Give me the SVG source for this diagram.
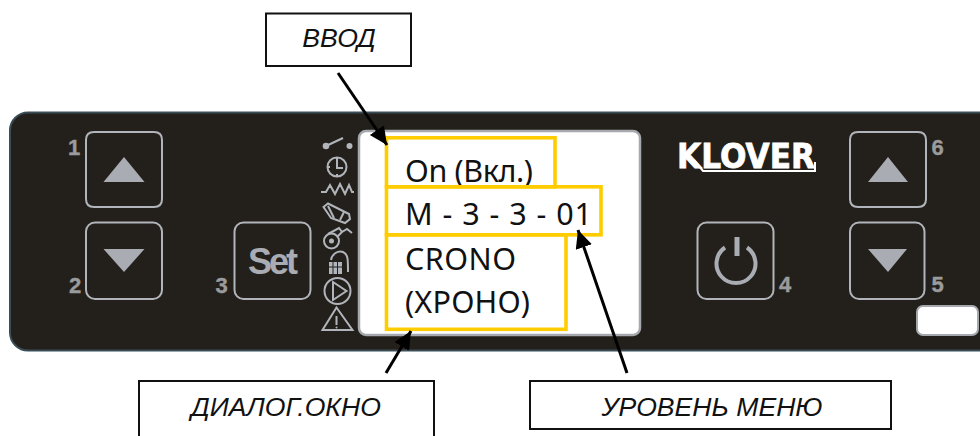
<svg xmlns="http://www.w3.org/2000/svg" width="980" height="436" viewBox="0 0 980 436">
<style>
.btn{fill:none;stroke:#b1b4ba;stroke-width:2}
.tri{fill:#a9acb3}
.num{font-family:"Liberation Sans",Arial,sans-serif;font-weight:700;font-size:22px;fill:#9a9b9c;stroke:#9a9b9c;stroke-width:.4}
.ic{fill:none;stroke:#b1b4ba;stroke-width:2}
.icf{fill:#b1b4ba}
.yb{fill:none;stroke:#ffcc00;stroke-width:3.6}
.lcd{font-family:"Noto Sans","Open Sans",sans-serif;font-size:30.5px;fill:#111}
.box{fill:#fff;stroke:#111;stroke-width:2}
.cap{font-family:"Liberation Sans",Arial,sans-serif;font-style:italic;font-size:26.6px;fill:#111;text-anchor:middle}
.arr{fill:none;stroke:#000;stroke-width:3;marker-end:url(#ah)}
</style>
<defs>
<marker id="ah" markerUnits="userSpaceOnUse" markerWidth="20" markerHeight="18" refX="18" refY="8.5" orient="auto">
<path d="M0 0L18 8.5L0 17Z" fill="#000"/>
</marker>
<path id="oct" d="M8 0H68Q76 0 76 8V67Q76 75 68 75H8Q0 75 0 67V8Q0 0 8 0Z"/>
</defs>
<rect width="980" height="436" fill="#fff"/>
<g id="panel">
<rect x="10" y="112.500" width="1010" height="238" rx="18" fill="#23201b" stroke="#3a4d56" stroke-width="2"/>
<rect x="359" y="131" width="281" height="204" rx="7" fill="#fff" stroke="#a5a8ad" stroke-width="2.500"/>
</g>
<g id="btn-1"><use href="#oct" x="86" y="132" class="btn"/><path class="tri" d="M124 157L144.500 182H103.500Z"/><text class="num" x="68" y="155">1</text></g>
<g id="btn-2"><rect x="86" y="222.500" width="76" height="76.500" rx="9" class="btn"/><path class="tri" d="M103.500 249H144.500L124 272Z"/><text class="num" x="69" y="293">2</text></g>
<g id="btn-3"><rect x="234.500" y="222.500" width="76" height="76.500" rx="9" class="btn"/><text x="248" y="274" font-family="Liberation Sans,Arial,sans-serif" font-weight="700" font-size="36" letter-spacing="-3" fill="#a9acb3">Set</text><text class="num" x="215.500" y="293">3</text></g>
<g id="btn-4"><rect x="697.500" y="222.500" width="76" height="76.500" rx="9" class="btn"/><path d="M725 247.500A19.500 19.500 0 1 0 747 247.500" fill="none" stroke="#a9acb3" stroke-width="4"/><rect x="734.500" y="237" width="5" height="19" fill="#a9acb3"/><text class="num" x="779" y="292">4</text></g>
<g id="btn-5"><rect x="850" y="222.500" width="74.500" height="76.500" rx="9" class="btn"/><path class="tri" d="M868 249H907L888 272Z"/><text class="num" x="931.500" y="292">5</text></g>
<g id="btn-6"><use href="#oct" x="850" y="132" class="btn"/><path class="tri" d="M888 157L908 182H868Z"/><text class="num" x="931.500" y="155">6</text></g>
<g id="logo"><text x="677" y="168" font-family="DejaVu Sans,sans-serif" font-weight="700" font-size="34" textLength="138" lengthAdjust="spacingAndGlyphs" fill="#fff" stroke="#fff" stroke-width="0.800">KLOVER</text><path d="M694 160L703 171H815V162" stroke="#fff" stroke-width="2" fill="none"/></g>
<g id="indicator"><rect x="917" y="306" width="61" height="29" rx="6" fill="#fff" stroke="#a5a8ad" stroke-width="2"/></g>
<g id="icons">
<circle class="icf" cx="326" cy="146" r="3.300"/><circle class="icf" cx="349.500" cy="146" r="3"/><path class="ic" d="M326 146L343 138"/>
<circle class="ic" cx="337" cy="167" r="9.500"/><path class="ic" d="M337 160V168H343M337 157.500V160M337 174V177M327.500 167H330"/>
<path class="ic" d="M321 192H326L330 185L335 194L340 184L345 194L349 185L352 192H354"/>
<path class="ic" d="M323.500 207L328 203.500L349 214L350 219L345 223L331 218Z"/><path class="ic" stroke-width="1.500" d="M328 206L334 218M344 212L340 220"/>
<circle class="ic" cx="331.500" cy="241" r="7.500"/><circle class="icf" cx="331.500" cy="241" r="2.500"/><path class="ic" d="M328 234L339 228L342 232L347 229L352 233M337 237L343 231"/>
<path class="ic" d="M331 260C332 254 338 250 343 252C348 254 348 259 348 272"/>
<path class="icf" d="M329 262H342V274H329Z"/><path d="M333 262V274M337.500 262V274M329 267H342" stroke="#23201b" stroke-width="1"/>
<circle class="ic" cx="337.500" cy="291" r="13"/><path class="ic" d="M333 282L346.500 291L333 300Z"/>
<path class="ic" d="M322.500 330L336.500 307.500L352.500 330Z"/><path class="ic" d="M336.500 316V325" stroke-width="1.500"/><circle class="icf" cx="336.500" cy="327.500" r="1"/>
</g>
<g id="label-on"><rect class="yb" x="386.500" y="137.800" width="168.500" height="49"/><text class="lcd" x="405" y="182" textLength="128">On (Вкл.)</text></g>
<g id="label-menu"><rect class="yb" x="386.500" y="186.800" width="214.500" height="48"/><text class="lcd" x="405" y="225" textLength="187">M - 3 - 3 - 01</text></g>
<g id="label-crono"><rect class="yb" x="386.500" y="234.800" width="179.500" height="94.500"/><text class="lcd" x="405" y="269.500" textLength="111">CRONO</text><text class="lcd" x="405" y="313" textLength="125">(ХРОНО)</text></g>
<g id="box-vvod"><rect class="box" x="266" y="13.500" width="145" height="52.500"/><text class="cap" x="339" y="47">ВВОД</text></g>
<g id="box-dialog"><path class="box" d="M139 437V381H434V437"/><text class="cap" x="286" y="416">ДИАЛОГ.ОКНО</text></g>
<g id="box-menu"><rect class="box" x="530" y="381" width="361" height="48"/><text class="cap" x="712" y="416">УРОВЕНЬ МЕНЮ</text></g>
<g id="connectors">
<path class="arr" d="M338 73L387 145"/>
<path class="arr" d="M386 373L411 331"/>
<path class="arr" d="M627 373L578 230"/>
</g>
</svg>
